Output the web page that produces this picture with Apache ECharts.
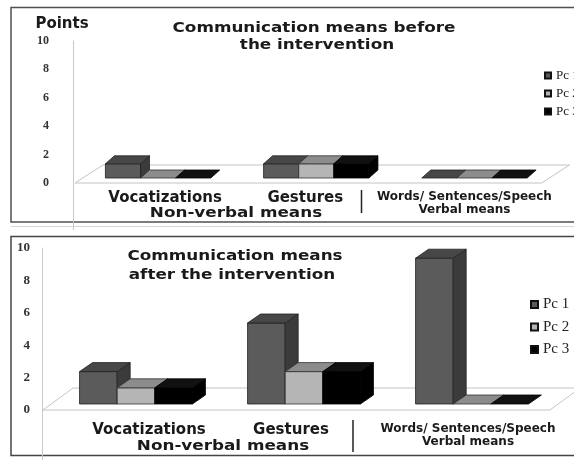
<!DOCTYPE html>
<html>
<head>
<meta charset="utf-8">
<title>Communication means</title>
<script src="https://cdn.jsdelivr.net/npm/echarts@6/dist/echarts.min.js"></script>
<style>
  html, body { margin: 0; padding: 0; background: #ffffff; }
  #chart { width: 574px; height: 460px; }
</style>
</head>
<body>
<div id="chart"></div>
<script>
// ---- data ----
const categories = ['Vocatizations', 'Gestures', 'Words/ Sentences/Speech'];
const participants = ['Pc 1', 'Pc 2', 'Pc 3'];
const yTicks = [0, 2, 4, 6, 8, 10];

// scores before the intervention
const beforePc1 = [1, 1, 0];
const beforePc2 = [0, 1, 0];
const beforePc3 = [0, 1, 0];

// scores after the intervention
const afterPc1 = [2, 5, 9];
const afterPc2 = [1, 2, 0];
const afterPc3 = [1, 2, 0];

const titleBefore = ['Communication means before', 'the intervention'];
const titleAfter = ['Communication means', 'after the intervention'];
const nonVerbalLabel = 'Non-verbal means';
const verbalLabel = 'Verbal means';
const yAxisTitle = 'Points';

// ---- styling ----
const SANS = '"DejaVu Sans", Verdana, sans-serif';
const SERIF = '"Liberation Serif", "Times New Roman", serif';
const TEXT = '#1a1a1a';

// face colours per participant: front, top, side, edge
const faces = [
  { front: '#5b5b5b', top: '#474747', side: '#3b3b3b', edge: '#222222' },
  { front: '#b5b5b5', top: '#8c8c8c', side: '#7c7c7c', edge: '#333333' },
  { front: '#000000', top: '#111111', side: '#000000', edge: '#000000' }
];

// 3D look for each panel (pixel offsets of the depth projection)
const panelGeom = [
  { barRatio: 0.222, lift: 5, dx: 9, dy: -8, floorL: 4, floorR: 12, fdx: 28, fdy: -18 },
  { barRatio: 0.224, lift: 6, dx: 13, dy: -9, floorL: 9, floorR: 6, fdx: 30, fdy: -22 }
];

function floorSeries(g) {
  const geom = panelGeom[g];
  return {
    type: 'custom',
    xAxisIndex: g, yAxisIndex: g,
    silent: true, z: 1,
    data: [[categories[0], 0]],
    renderItem: function (params, api) {
      const cs = params.coordSys;
      const y0 = api.coord([api.value(0), 0])[1];
      const xl = cs.x - geom.floorL;
      const xr = cs.x + cs.width - geom.floorR;
      return {
        type: 'polygon',
        shape: { points: [[xl, y0], [xr, y0], [xr + geom.fdx, y0 + geom.fdy], [xl + geom.fdx, y0 + geom.fdy]] },
        style: { fill: '#ffffff', stroke: '#c4c4c4', lineWidth: 1 }
      };
    }
  };
}

function barSeries(g, p, values) {
  const geom = panelGeom[g];
  const c = faces[p];
  return {
    type: 'custom',
    name: participants[p],
    xAxisIndex: g, yAxisIndex: g,
    z: 2,
    itemStyle: { color: c.front, borderColor: '#111', borderWidth: 1 },
    data: values.map(function (v, i) { return [categories[i], v]; }),
    renderItem: function (params, api) {
      const ci = api.value(0);
      const v = api.value(1);
      const base = api.coord([ci, 0]);
      const head = api.coord([ci, v]);
      const band = api.size([1, 0])[0];
      const w = band * geom.barRatio;
      const x0 = base[0] - 1.5 * w + p * w;
      const x1 = x0 + w;
      const yb = base[1] - geom.lift;
      const yt = head[1] - geom.lift;
      const dx = geom.dx, dy = geom.dy;
      const edge = { stroke: c.edge, lineWidth: 0.8 };
      const children = [];
      if (v > 0) {
        children.push({
          type: 'polygon',
          shape: { points: [[x0, yt], [x1, yt], [x1, yb], [x0, yb]] },
          style: Object.assign({ fill: c.front }, edge)
        });
        children.push({
          type: 'polygon',
          shape: { points: [[x1, yt], [x1 + dx, yt + dy], [x1 + dx, yb + dy], [x1, yb]] },
          style: Object.assign({ fill: c.side }, edge)
        });
      }
      children.push({
        type: 'polygon',
        shape: { points: [[x0, yt], [x0 + dx, yt + dy], [x1 + dx, yt + dy], [x1, yt]] },
        style: Object.assign({ fill: c.top }, edge)
      });
      return { type: 'group', children: children };
    }
  };
}

function categoryAxis(g, shifts, margin) {
  // shifts: horizontal nudge of each label (pixels) via padding
  function pad(s) { return s >= 0 ? [0, 0, 0, 2 * s] : [0, -2 * s, 0, 0]; }
  return {
    type: 'category',
    gridIndex: g,
    data: categories,
    axisLine: { show: false },
    axisTick: { show: false },
    splitLine: { show: false },
    axisLabel: {
      interval: 0,
      margin: margin,
      formatter: function (val) {
        if (val === categories[2]) return '{w|' + val + '}\n{w|' + verbalLabel + '}';
        if (val === categories[0]) return '{a|' + val + '}';
        return '{b|' + val + '}';
      },
      rich: {
        a: { fontFamily: SANS, fontWeight: 'bold', fontSize: 15, lineHeight: 16, color: TEXT, padding: pad(shifts[0]) },
        b: { fontFamily: SANS, fontWeight: 'bold', fontSize: 15, lineHeight: 16, color: TEXT, padding: pad(shifts[1]) },
        w: { fontFamily: SANS, fontWeight: 'bold', fontSize: 12, lineHeight: 13, color: TEXT, padding: pad(shifts[2]) }
      }
    }
  };
}

function valueAxis(g, offset, labelMargin, fontSize, withName) {
  const ax = {
    type: 'value',
    gridIndex: g,
    min: yTicks[0],
    max: yTicks[yTicks.length - 1],
    interval: yTicks[1] - yTicks[0],
    offset: offset,
    axisLine: { show: true, lineStyle: { color: '#c8c8c8', width: 1 } },
    axisTick: { show: false },
    splitLine: { show: false },
    axisLabel: { margin: labelMargin, fontFamily: SERIF, fontWeight: 'bold', fontSize: fontSize, color: '#333' }
  };
  if (withName) {
    ax.name = yAxisTitle;
    ax.nameLocation = 'end';
    ax.nameGap = 9;
    ax.nameTextStyle = { fontFamily: SANS, fontWeight: 'bold', fontSize: 15, color: TEXT, padding: [0, 22, 0, 0] };
  }
  return ax;
}

function label(text, x, y, size, sx) {
  return {
    type: 'text', x: x, y: y, scaleX: sx, z: 10,
    style: {
      text: text, font: 'bold ' + size + 'px ' + SANS, fill: TEXT,
      align: 'center', verticalAlign: 'middle', textAlign: 'center', textVerticalAlign: 'middle'
    }
  };
}

function line(x1, y1, x2, y2, color, w) {
  return { type: 'line', z: 0, shape: { x1: x1, y1: y1, x2: x2, y2: y2 }, style: { stroke: color, lineWidth: w } };
}

const option = {
  animation: false,
  backgroundColor: '#ffffff',
  grid: [
    { left: 79, right: 15, top: 41, bottom: 277 },
    { left: 52, right: 18, top: 248, bottom: 50 }
  ],
  xAxis: [
    categoryAxis(0, [7, -11, -10], 7),
    categoryAxis(1, [13, -13, -4], 12)
  ],
  yAxis: [
    valueAxis(0, 6, 24, 12, true),
    valueAxis(1, 10, 12, 13, false)
  ],
  legend: [
    {
      orient: 'vertical', left: 539, top: 64, icon: 'rect',
      itemWidth: 6, itemHeight: 6, itemGap: 5,
      textStyle: { fontFamily: SERIF, fontSize: 13, color: '#222' },
      data: participants
    },
    {
      orient: 'vertical', left: 525, top: 292, icon: 'rect',
      itemWidth: 7, itemHeight: 7, itemGap: 7.5,
      textStyle: { fontFamily: SERIF, fontSize: 15, color: '#222' },
      data: participants
    }
  ],
  graphic: [
    // panel frames
    { type: 'rect', z: 0, shape: { x: 11, y: 7.5, width: 600, height: 214.5 }, style: { fill: 'none', stroke: '#505050', lineWidth: 1.5 } },
    line(11, 226.5, 574, 226.5, '#d6d6d6', 1),
    { type: 'rect', z: 0, shape: { x: 11, y: 236.5, width: 600, height: 219 }, style: { fill: 'none', stroke: '#454545', lineWidth: 1.5 } },
    // value axes running down past the floor
    line(73.5, 183, 73.5, 230, '#c8c8c8', 1),
    line(42.5, 410, 42.5, 460, '#c8c8c8', 1),
    // separators between non-verbal and verbal groups
    line(361.5, 190, 361.5, 213, '#222', 1.5),
    line(353, 420, 353, 452, '#222', 1.5),
    // titles
    label(titleBefore[0], 314, 28, 14, 1.2),
    label(titleBefore[1], 317, 45, 14, 1.2),
    label(titleAfter[0], 235, 256, 14, 1.2),
    label(titleAfter[1], 232, 275, 14, 1.2),
    // group captions
    label(nonVerbalLabel, 236, 213, 14, 1.2),
    label(nonVerbalLabel, 223, 446, 14, 1.2)
  ],
  series: [
    floorSeries(0),
    barSeries(0, 0, beforePc1),
    barSeries(0, 1, beforePc2),
    barSeries(0, 2, beforePc3),
    floorSeries(1),
    barSeries(1, 0, afterPc1),
    barSeries(1, 1, afterPc2),
    barSeries(1, 2, afterPc3)
  ]
};

const chart = echarts.init(document.getElementById('chart'), null, { renderer: 'canvas' });
chart.setOption(option);
</script>
</body>
</html>
